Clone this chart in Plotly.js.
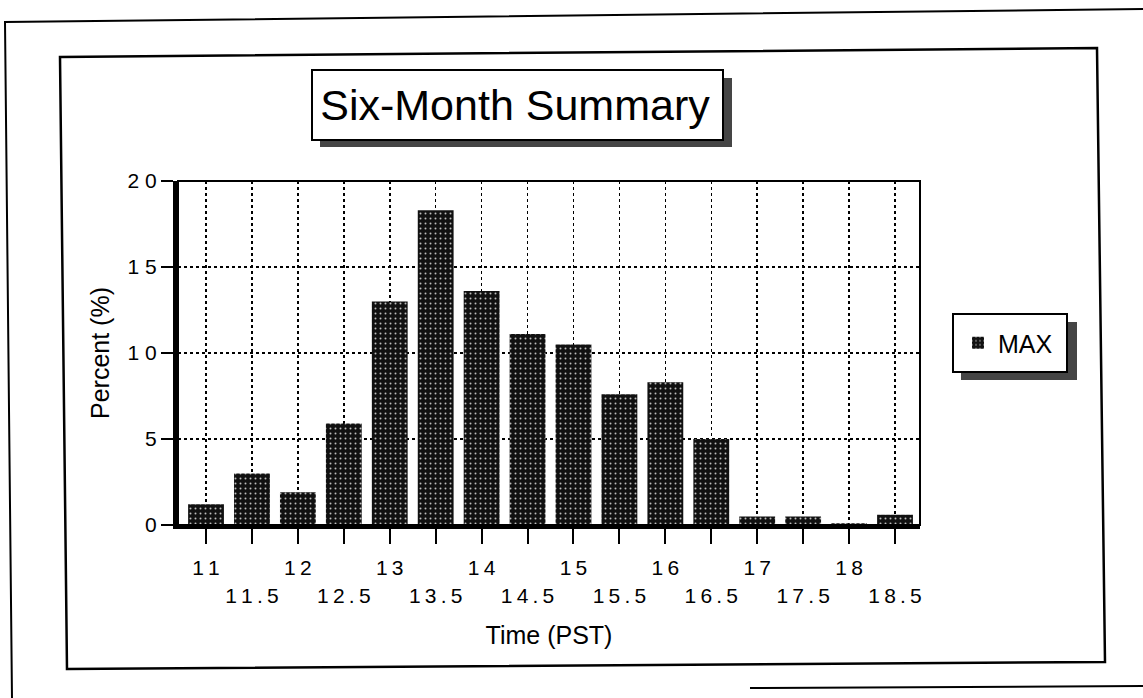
<!DOCTYPE html>
<html>
<head>
<meta charset="utf-8">
<script src="https://cdn.plot.ly/plotly-3.0.1.min.js"></script>
<style>html,body{margin:0;padding:0;background:#fff;}#chart{width:1143px;height:698px;}</style>
</head>
<body>
<div id="chart"></div>
<script>
// ---- data ----
const times = [11, 11.5, 12, 12.5, 13, 13.5, 14, 14.5, 15, 15.5, 16, 16.5, 17, 17.5, 18, 18.5];
const timeLabels = ["11", "11.5", "12", "12.5", "13", "13.5", "14", "14.5", "15", "15.5", "16", "16.5", "17", "17.5", "18", "18.5"];
const maxPercent = [1.2, 3.0, 1.9, 5.9, 13.0, 18.3, 13.6, 11.1, 10.5, 7.6, 8.3, 5.0, 0.5, 0.5, 0.1, 0.6];
const yTickValues = [0, 5, 10, 15, 20];
const yTickLabels = ["0", "5", "10", "15", "20"];
const seriesName = "MAX";
const chartTitle = "Six-Month Summary";
const xTitle = "Time (PST)";
const yTitle = "Percent (%)";

// ---- layout helpers ----
const W = 1143, H = 698, L = 178, R = 920, T = 181, B = 525;
const X = px => (px - L) / (R - L);
const Y = py => (B - py) / (B - T);
const spacedX = s => s.split('').join('\u2009');
const spacedY = s => s.split('').join(' ');
const FONT = '"Liberation Sans", Arial, Helvetica, sans-serif';

const xTickText = timeLabels.map((s, i) => (i % 2 === 0 ? spacedX(s) : '<br>' + spacedX(s)));

const trace = {
  type: 'bar',
  x: times,
  y: maxPercent,
  name: seriesName,
  width: 0.39,
  marker: {
    color: '#111111',
    line: {width: 0},
    pattern: {shape: '.', bgcolor: '#111111', fgcolor: '#bdbdbd', size: 5, solidity: 0.12, fillmode: 'replace'}
  },
  hoverinfo: 'x+y'
};

function rect(x0, y0, x1, y1, fill, lw) {
  return {type: 'rect', xref: 'paper', yref: 'paper', layer: 'below',
    x0: X(x0), x1: X(x1), y0: Y(y1), y1: Y(y0),
    fillcolor: fill, line: {width: lw, color: '#000'}};
}
function path(pts, closed, lw) {
  let d = pts.map((p, i) => (i ? 'L' : 'M') + X(p[0]) + ',' + Y(p[1])).join(' ');
  if (closed) d += ' Z';
  return {type: 'path', xref: 'paper', yref: 'paper', layer: 'below', path: d,
    line: {width: lw, color: '#000'}};
}

const shapes = [
  path([[12, 698], [5, 22], [1143, 9]], false, 2),
  path([[750, 688], [1143, 686]], false, 2),
  path([[60, 57], [1097, 48], [1105, 662], [67, 669]], true, 2.5),
  rect(320, 78, 732, 147, '#454545', 0),
  rect(312, 70, 723, 140, '#ffffff', 2),
  rect(961, 322, 1077, 380, '#454545', 0),
  rect(953, 314, 1067, 372, '#ffffff', 2),
  {type: 'rect', xref: 'paper', yref: 'paper', layer: 'above', x0: 0, x1: 1, y0: 0, y1: 1,
    line: {width: 2, color: '#000'}, fillcolor: 'rgba(0,0,0,0)'}
];

const layout = {
  width: W, height: H,
  margin: {l: L, r: W - R, t: T, b: H - B, pad: 0},
  paper_bgcolor: '#ffffff',
  plot_bgcolor: '#ffffff',
  font: {family: FONT, color: '#000', size: 21},
  title: {
    text: chartTitle,
    font: {family: FONT, size: 43, color: '#000'},
    xref: 'paper', x: X(515), xanchor: 'center',
    yref: 'container', y: 1 - 105 / H, yanchor: 'middle'
  },
  showlegend: true,
  legend: {
    x: X(958), xanchor: 'left', y: Y(343), yanchor: 'middle',
    xref: 'paper', yref: 'paper',
    bgcolor: 'rgba(0,0,0,0)', borderwidth: 0,
    font: {family: FONT, size: 25, color: '#000'}
  },
  bargap: 0.22,
  xaxis: {
    range: [10.695, 18.772],
    tickmode: 'array', tickvals: times, ticktext: xTickText,
    ticks: 'outside', ticklen: 15, tickwidth: 2, tickcolor: '#000',
    ticklabelstandoff: 6,
    tickfont: {family: FONT, size: 21, color: '#000'},
    showline: true, linewidth: 4, linecolor: '#000',
    showgrid: true, gridcolor: '#000', gridwidth: 1.5, griddash: 'dot',
    zeroline: false, fixedrange: true,
    title: {text: xTitle, font: {family: FONT, size: 25, color: '#000'}, standoff: 22}
  },
  yaxis: {
    range: [0, 20],
    tickmode: 'array', tickvals: yTickValues, ticktext: yTickLabels.map(spacedY),
    ticks: 'outside', ticklen: 12, tickwidth: 2, tickcolor: '#000',
    tickfont: {family: FONT, size: 21, color: '#000'},
    showline: true, linewidth: 5, linecolor: '#000',
    showgrid: true, gridcolor: '#000', gridwidth: 1.5, griddash: 'dot',
    zeroline: false, fixedrange: true,
    title: {text: yTitle, font: {family: FONT, size: 25, color: '#000'}, standoff: 12}
  },
  shapes: shapes
};

Plotly.newPlot('chart', [trace], layout, {displayModeBar: false, staticPlot: true});
</script>
</body>
</html>
